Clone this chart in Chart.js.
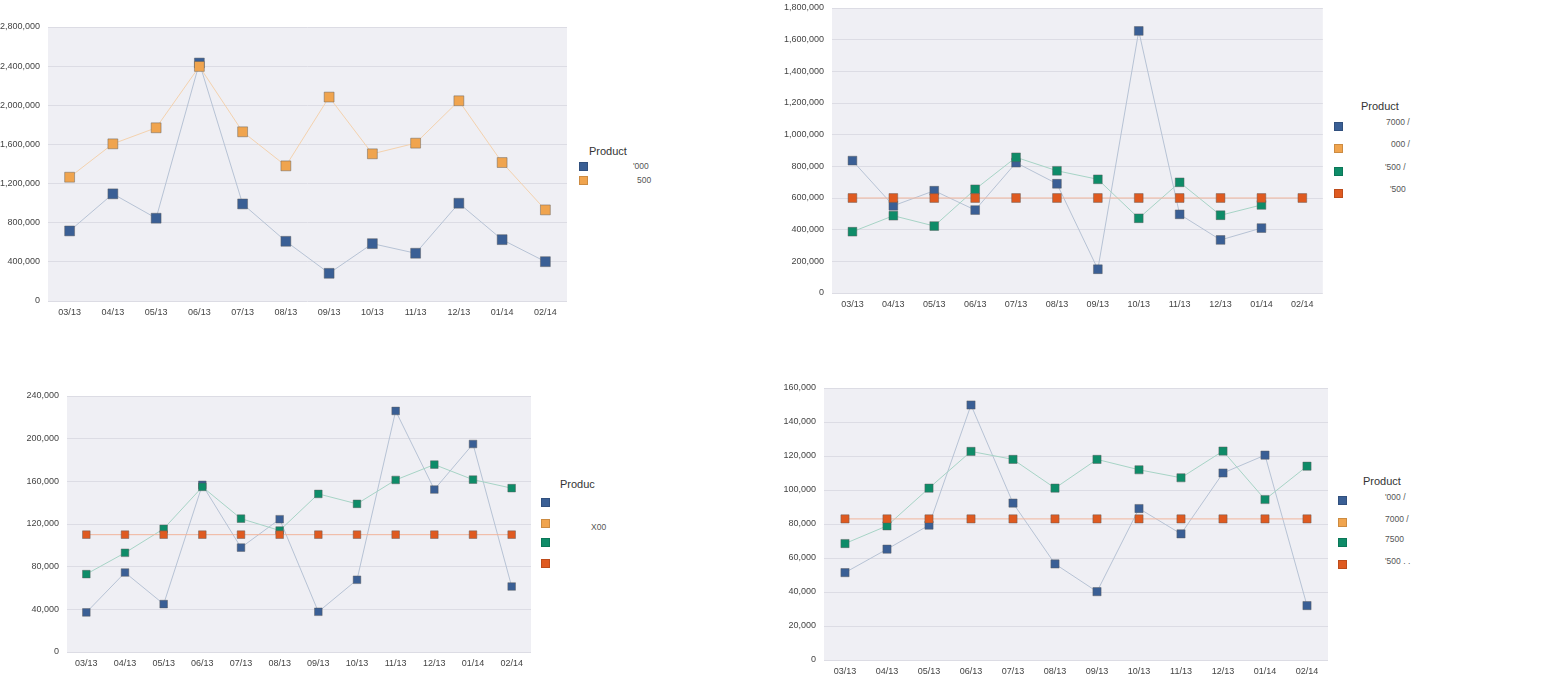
<!DOCTYPE html>
<html>
<head>
<meta charset="utf-8">
<script src="https://cdn.jsdelivr.net/npm/chart.js@4.4.1/dist/chart.umd.min.js"></script>
<style>
  body { margin: 0; width: 1556px; height: 682px; background: #fff; position: relative; overflow: hidden; font-family: "Liberation Sans", Arial, sans-serif; }
  .box { position: absolute; }
  .legend-title { position: absolute; font-size: 11px; color: #333; line-height: 12px; }
  .legend-sq { position: absolute; width: 7px; height: 7px; border: 1px solid rgba(0,0,0,0.15); }
  .legend-txt { position: absolute; font-size: 8.5px; color: #555; line-height: 9px; white-space: nowrap; }
</style>
</head>
<body>
<div class="box" style="left:0;top:0;width:575px;height:325px"><canvas id="chart-1"></canvas></div>
<div class="box" style="left:780px;top:0;width:550px;height:320px"><canvas id="chart-2"></canvas></div>
<div class="box" style="left:0;top:380px;width:540px;height:300px"><canvas id="chart-3"></canvas></div>
<div class="box" style="left:770px;top:370px;width:565px;height:312px"><canvas id="chart-4"></canvas></div>
<div id="legends"></div>
<script>
// Months (x axis)
const months = ['03/13', '04/13', '05/13', '06/13', '07/13', '08/13', '09/13', '10/13', '11/13', '12/13', '01/14', '02/14'];

// Chart 1 (top left)
const c1Blue = [716000, 1095000, 846000, 2432000, 992000, 610000, 283000, 586000, 488000, 999000, 627000, 402000];
const c1Orange = [1265000, 1606000, 1770000, 2397000, 1729000, 1381000, 2084000, 1504000, 1613000, 2046000, 1415000, 931000];

// Chart 2 (top right)
const c2Blue = [836000, 551000, 646000, 524000, 823000, 690000, 150000, 1655000, 497000, 335000, 410000, null];
const c2Orange = [null, null, null, null, null, null, null, null, null, null, null, null];
const c2Green = [387000, 488000, 423000, 655000, 857000, 772000, 718000, 472000, 699000, 491000, 556000, null];
const c2Red = [600000, 600000, 600000, 600000, 600000, 600000, 600000, 600000, 600000, 600000, 600000, 600000];

// Chart 3 (bottom left)
const c3Blue = [37100, 74500, 44900, 156700, 97900, 124500, 37700, 67700, 226000, 152300, 195000, 61400];
const c3Orange = [null, null, null, null, null, null, null, null, null, null, null, null];
const c3Green = [73000, 93000, 115500, 154800, 125000, 113900, 148200, 138900, 161300, 175700, 161600, 153600];
const c3Red = [110000, 110000, 110000, 110000, 110000, 110000, 110000, 110000, 110000, 110000, 110000, 110000];

// Chart 4 (bottom right)
const c4Blue = [51400, 65200, 79300, 150000, 92300, 56500, 40200, 89100, 74200, 110000, 120500, 32000];
const c4Orange = [null, null, null, null, null, null, null, null, null, null, null, null];
const c4Green = [68500, 78900, 101100, 122700, 118000, 101100, 118000, 111900, 107200, 122900, 94400, 114000];
const c4Red = [83000, 83000, 83000, 83000, 83000, 83000, 83000, 83000, 83000, 83000, 83000, 83000];

const colors = {
    blue:   { fill: '#3a5f95', line: '#b7c3d5' },
    orange: { fill: '#f0a44e', line: '#f4d2ae' },
    green:  { fill: '#0e8c68', line: '#a7d4c6' },
    red:    { fill: '#df5a20', line: '#f1b59c' }
};

const plotBackground = {
    id: 'plotBackground',
    beforeDraw(chart) {
        const { ctx, chartArea: a } = chart;
        ctx.save();
        ctx.fillStyle = '#efeff4';
        ctx.fillRect(a.left, a.top, a.right - a.left, a.bottom - a.top);
        ctx.restore();
    }
};

function series(data, color, order, radius) {
    return {
        data: data,
        borderColor: colors[color].line,
        backgroundColor: colors[color].fill,
        pointBackgroundColor: colors[color].fill,
        pointBorderColor: 'rgba(90,90,90,0.45)',
        pointBorderWidth: 1,
        pointStyle: 'rect',
        pointRadius: radius,
        pointHoverRadius: radius,
        borderWidth: 1,
        tension: 0,
        spanGaps: false,
        order: order
    };
}

function makeChart(id, datasets, opts) {
    const ctx = document.getElementById(id).getContext('2d');
    return new Chart(ctx, {
        type: 'line',
        data: { labels: months, datasets: datasets },
        plugins: [plotBackground],
        options: {
            responsive: true,
            maintainAspectRatio: false,
            animation: false,
            layout: { padding: opts.padding },
            plugins: { legend: { display: false }, tooltip: { enabled: false } },
            scales: {
                x: {
                    offset: true,
                    grid: { display: false, drawTicks: false },
                    border: { display: false },
                    ticks: { color: '#444', font: { family: 'Liberation Sans', size: 9 }, padding: 6, maxRotation: 0 },
                    afterFit(scale) { scale.height = opts.xHeight; scale.paddingLeft = 0; scale.paddingRight = 0; }
                },
                y: {
                    min: 0,
                    max: opts.max,
                    grid: { color: '#dcdce4', drawTicks: false },
                    border: { display: false },
                    ticks: {
                        stepSize: opts.step,
                        color: '#444',
                        font: { family: 'Liberation Sans', size: 9 },
                        padding: 8,
                        callback: v => v.toLocaleString('en-US')
                    },
                    afterFit(scale) { scale.width = opts.yWidth; scale.paddingTop = 0; scale.paddingBottom = 0; }
                }
            }
        }
    });
}

makeChart('chart-1', [
    series(c1Blue, 'blue', 2, 7),
    series(c1Orange, 'orange', 1, 7)
], { max: 2800000, step: 400000, yWidth: 48, xHeight: 24, padding: { left: 0, top: 27, right: 4, bottom: 0 } });

makeChart('chart-2', [
    series(c2Blue, 'blue', 4, 6.2),
    series(c2Orange, 'orange', 3, 6.2),
    series(c2Green, 'green', 2, 6.2),
    series(c2Red, 'red', 1, 6.2)
], { max: 1800000, step: 200000, yWidth: 52, xHeight: 27, padding: { left: 0, top: 8, right: 5, bottom: 0 } });

makeChart('chart-3', [
    series(c3Blue, 'blue', 4, 5.4),
    series(c3Orange, 'orange', 3, 5.4),
    series(c3Green, 'green', 2, 5.4),
    series(c3Red, 'red', 1, 5.4)
], { max: 240000, step: 40000, yWidth: 67, xHeight: 28, padding: { left: 0, top: 16, right: 9, bottom: 0 } });

makeChart('chart-4', [
    series(c4Blue, 'blue', 4, 5.8),
    series(c4Orange, 'orange', 3, 5.8),
    series(c4Green, 'green', 2, 5.8),
    series(c4Red, 'red', 1, 5.8)
], { max: 160000, step: 20000, yWidth: 54, xHeight: 22, padding: { left: 0, top: 18, right: 7, bottom: 0 } });

// Legends (labels are mostly masked in the source; only the visible fragments are kept)
const legend1Labels = ["'000", '500'];
const legend2Labels = ['7000 /', '000 /', "'500 /", "'500"];
const legend3Labels = ['', 'X00', '', ''];
const legend4Labels = ["'000 /", '7000 /', '7500', "'500 . ."];
const legendColors = ['blue', 'orange', 'green', 'red'];

function drawLegend(title, x, y, sqX, sqYs, labels, txtX, txtDy) {
    const host = document.getElementById('legends');
    let html = `<div class="legend-title" style="left:${x}px;top:${y - 6}px">${title}</div>`;
    sqYs.forEach((sy, i) => {
        html += `<div class="legend-sq" style="left:${sqX}px;top:${sy - 4}px;background:${colors[legendColors[i]].fill}"></div>`;
        if (labels[i]) {
            html += `<div class="legend-txt" style="left:${txtX[i]}px;top:${sy + txtDy - 4}px">${labels[i]}</div>`;
        }
    });
    host.insertAdjacentHTML('beforeend', html);
}

drawLegend('Product', 589, 151, 579, [166, 180], legend1Labels, [633, 637], 0);
drawLegend('Product', 1361, 106, 1334, [126, 148, 171, 193], legend2Labels, [1386, 1391, 1385, 1390], -4);
drawLegend('Produc', 560, 484, 541, [502, 523, 542, 563], legend3Labels, [0, 591, 0, 0], 4);
drawLegend('Product', 1363, 481, 1338, [500, 522, 542, 564], legend4Labels, [1385, 1385, 1385, 1385], -3);
</script>
</body>
</html>
